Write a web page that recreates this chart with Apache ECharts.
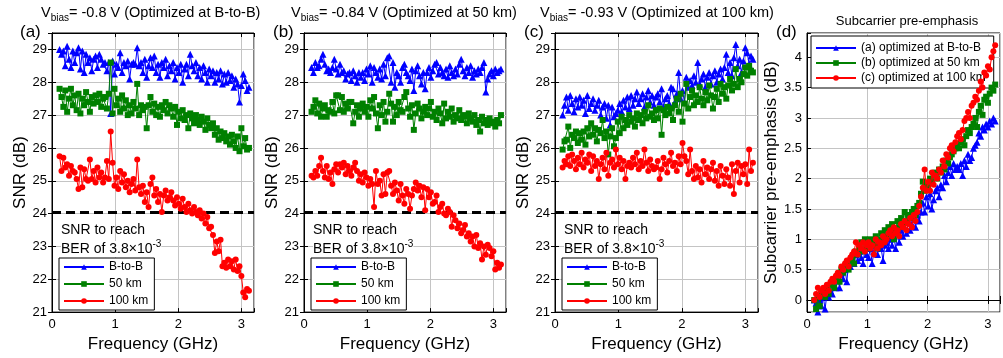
<!DOCTYPE html>
<html><head><meta charset="utf-8">
<script src="https://cdn.jsdelivr.net/npm/echarts@6/dist/echarts.min.js"></script>
<style>html,body{margin:0;padding:0;background:#fff}#c{width:1003px;height:358px}</style>
</head><body><div id="c"></div>
<script>
// ---- DATA ----
const freq = [0.12,0.15,0.18,0.21,0.24,0.27,0.30,0.33,0.36,0.39,
0.42,0.45,0.48,0.51,0.54,0.57,0.60,0.63,0.66,0.69,
0.72,0.75,0.78,0.81,0.84,0.87,0.90,0.93,0.96,0.99,
1.02,1.05,1.08,1.11,1.14,1.17,1.20,1.23,1.26,1.29,
1.32,1.35,1.38,1.41,1.44,1.47,1.50,1.53,1.56,1.59,
1.62,1.65,1.68,1.71,1.74,1.77,1.80,1.83,1.86,1.89,
1.92,1.95,1.98,2.01,2.04,2.07,2.10,2.13,2.16,2.19,
2.22,2.25,2.28,2.31,2.34,2.37,2.40,2.43,2.46,2.49,
2.52,2.55,2.58,2.61,2.64,2.67,2.70,2.73,2.76,2.79,
2.82,2.85,2.88,2.91,2.94,2.97,3.00,3.03,3.06,3.09,
3.12];

// Panel (a): Vbias = -0.8 V
const snrA_btb = [29.0,28.85,28.95,28.5,29.1,28.7,28.45,28.95,28.6,28.9,
29.05,28.4,28.95,28.3,28.85,28.6,28.75,28.35,28.7,28.8,
28.45,28.85,28.7,28.55,28.6,28.35,28.6,27.05,28.65,28.25,
28.55,28.45,28.9,28.3,28.6,28.5,28.65,28.1,28.55,28.6,
28.55,29.05,28.5,28.6,28.3,28.7,28.15,28.5,28.75,28.45,
28.8,28.3,28.55,28.15,28.6,28.45,28.7,28.2,28.5,28.35,
28.6,28.1,28.45,28.3,28.55,28.0,28.4,28.55,28.2,28.85,
28.5,28.35,28.6,28.2,28.45,28.1,28.5,28.3,28.0,28.4,
28.2,28.35,28.0,28.3,28.1,28.35,27.95,28.25,28.0,28.3,
28.05,28.2,27.85,28.1,27.95,27.4,27.9,28.25,28.05,27.75,
27.85];
const snrA_50 = [27.8,27.55,27.25,27.75,27.1,27.5,27.8,27.3,27.6,27.15,
27.65,27.05,27.5,27.3,27.7,27.4,27.1,27.55,27.35,27.6,
27.4,27.65,27.25,27.5,27.55,27.2,27.65,28.6,27.05,27.8,
27.3,27.5,27.1,27.6,27.2,27.45,27.0,27.3,27.05,27.4,
27.2,27.95,27.0,27.3,27.15,27.25,26.6,27.3,27.55,27.1,
27.35,27.0,27.25,26.95,27.3,27.15,27.4,27.05,27.3,27.2,
26.95,27.25,26.7,27.1,26.9,27.15,26.85,27.0,26.6,27.05,
26.9,26.75,27.0,26.85,26.7,26.95,26.8,26.55,26.9,26.7,
26.6,26.75,26.4,26.6,26.25,26.5,26.3,26.45,26.2,26.35,
26.1,26.4,26.2,26.0,26.35,25.9,26.6,26.05,26.3,25.95,
26.0];
const snrA_100 = [25.75,25.3,25.7,25.4,25.5,25.15,25.45,25.3,25.25,25.05,
24.75,25.4,24.8,25.35,25.05,25.0,25.65,25.05,25.3,24.95,
25.4,25.1,25.25,24.95,25.1,25.6,25.05,26.5,25.55,24.85,
25.1,24.75,25.3,24.95,25.2,24.8,25.0,24.65,24.9,25.05,
24.7,25.65,24.8,24.6,24.85,24.35,24.65,24.2,24.9,25.1,
24.55,24.75,24.35,24.6,24.05,24.55,24.7,24.4,24.5,24.65,
24.4,24.25,24.5,24.3,24.15,24.45,24.2,24.05,24.3,24.1,
24.0,24.2,24.05,23.95,24.1,23.85,24.0,23.7,23.9,23.55,
23.6,23.35,22.8,23.15,22.85,23.2,22.4,22.5,22.35,22.6,
22.4,22.55,22.3,22.6,22.25,22.4,22.1,21.6,21.45,21.7,
21.65];

// Panel (b): Vbias = -0.84 V
const snrB_btb = [28.45,28.3,28.6,28.45,28.5,28.7,28.85,28.55,28.35,28.4,
28.3,28.45,28.7,28.4,28.25,28.55,28.3,28.35,28.1,28.25,
28.3,28.05,28.35,28.2,28.0,28.3,28.15,28.3,28.05,28.4,
28.25,28.5,28.0,28.45,28.3,28.15,28.4,28.1,28.55,28.2,
28.75,28.8,28.0,28.6,27.85,28.3,28.2,28.0,28.45,28.55,
28.3,28.2,28.05,28.4,27.75,28.35,28.5,28.2,27.95,28.3,
27.8,28.3,28.45,28.15,28.35,28.55,28.6,28.25,28.45,28.3,
28.2,28.4,28.15,28.5,28.3,28.2,28.4,28.25,28.55,28.7,
28.35,28.2,28.45,28.3,28.5,28.15,28.35,28.25,28.4,28.3,
28.45,28.6,27.7,28.1,28.25,28.35,28.2,28.4,28.3,28.35,
28.4];
const snrB_50 = [27.1,27.25,27.45,27.05,27.35,26.95,27.2,27.3,26.95,27.15,
27.1,27.4,27.05,27.6,27.6,27.15,27.55,27.1,27.35,27.2,
27.4,27.4,26.75,27.1,27.3,26.95,27.2,27.35,27.1,27.25,
26.95,27.45,27.2,27.55,27.05,26.6,27.3,27.0,27.4,26.8,
27.1,27.65,27.35,26.8,27.25,27.0,27.4,27.15,27.1,27.55,
27.7,27.2,26.95,27.3,26.55,27.05,27.35,27.2,26.9,27.1,
27.25,27.0,27.2,27.4,26.95,27.1,26.85,27.2,27.05,26.75,
27.35,26.9,27.1,26.95,27.2,26.8,27.0,26.9,27.15,26.85,
27.0,26.95,26.75,27.05,26.9,26.8,27.0,26.7,26.85,26.5,
26.95,26.75,26.85,26.7,26.9,26.75,26.8,26.65,26.85,26.75,
27.0];
const snrB_100 = [25.15,25.1,25.3,25.15,25.45,25.7,25.3,25.1,25.45,25.05,
25.25,24.9,25.35,25.5,25.25,25.5,25.4,25.55,25.2,25.45,
25.3,25.15,25.4,25.55,25.3,25.0,25.2,24.95,25.25,25.1,
24.85,25.05,24.9,24.2,25.3,24.9,25.0,24.55,25.2,24.6,
25.25,25.3,24.85,24.6,24.95,24.7,24.4,24.9,24.55,24.3,
24.75,24.6,24.15,24.55,24.75,24.95,24.7,24.85,24.5,24.8,
24.1,24.75,24.5,24.65,24.3,24.35,24.55,24.05,24.2,24.3,
24.0,23.95,24.15,24.05,23.6,23.95,23.8,23.55,23.7,23.4,
23.5,23.65,23.3,23.4,23.15,23.3,23.0,23.35,22.95,23.1,
22.6,23.0,22.75,23.05,22.95,22.7,22.85,22.3,22.5,22.35,
22.45];

// Panel (c): Vbias = -0.93 V
const snrC_btb = [27.0,27.3,27.55,27.15,27.6,27.35,27.1,27.5,27.25,27.55,
27.3,27.45,27.05,27.6,27.2,27.35,27.5,27.15,27.3,27.45,
27.0,27.25,27.35,26.9,27.3,26.7,27.25,26.95,27.05,27.15,
27.35,27.1,27.45,27.25,27.55,27.2,27.6,27.3,27.5,27.7,
27.35,27.5,27.65,27.25,27.55,27.75,27.4,27.6,27.3,27.55,
27.65,27.4,27.8,27.25,27.5,27.6,27.35,27.85,27.8,27.4,
27.65,28.3,27.5,27.75,27.4,28.15,27.85,28.05,27.9,28.2,
28.0,28.6,27.95,28.1,28.25,27.85,28.15,28.3,27.95,28.2,
28.35,28.0,28.25,28.4,28.1,28.45,28.85,28.3,28.6,28.2,
28.75,29.15,28.5,28.7,28.3,28.65,29.05,28.9,28.55,28.8,
28.7];
const snrC_50 = [25.95,26.2,26.25,26.65,26.0,26.4,26.3,26.5,26.15,26.45,
26.25,26.5,26.1,26.6,26.35,26.75,26.4,26.6,26.2,26.55,
26.45,26.85,26.3,26.5,25.8,26.35,26.6,26.05,26.3,26.8,
26.45,26.95,26.6,26.85,26.7,27.0,26.8,26.9,26.65,27.05,
26.85,27.0,26.75,27.1,26.9,27.3,26.95,27.05,26.85,27.15,
26.9,27.2,26.4,27.15,27.0,27.25,27.05,27.2,26.85,27.3,
27.5,27.1,27.65,26.8,27.35,27.95,27.2,27.55,27.75,27.3,
27.6,27.4,27.85,27.5,27.3,27.7,27.45,27.9,27.6,27.2,
27.55,27.8,27.4,27.95,27.65,27.85,27.5,27.9,28.1,27.75,
27.95,28.4,27.85,28.1,28.0,28.25,28.45,28.2,28.5,28.35,
28.3];
const snrC_100 = [25.4,25.6,25.5,25.75,25.45,25.8,25.6,25.35,25.7,25.5,
25.85,25.4,25.65,25.55,25.8,25.3,25.75,25.45,25.6,25.05,
25.5,25.7,25.35,25.85,25.15,25.55,25.65,25.4,25.95,25.5,
25.7,25.35,25.6,25.05,25.45,25.55,25.4,25.7,25.5,25.85,
25.35,25.6,25.45,25.95,25.55,25.3,25.65,25.45,25.35,25.4,
25.6,25.05,25.35,25.7,25.5,25.25,25.6,25.85,25.45,25.55,
25.3,25.75,25.5,26.15,25.75,25.6,25.2,25.95,25.3,25.05,
25.45,25.1,25.35,24.95,25.6,25.2,25.4,25.05,25.35,25.55,
25.0,25.3,24.85,25.45,25.15,24.9,25.35,25.1,24.85,25.5,
24.6,25.3,25.55,24.95,25.45,25.2,25.5,24.9,25.95,25.3,
25.55];

// Panel (d): subcarrier pre-emphasis (dB)
const preA = [0.0,-0.05,-0.2,0.0,-0.1,0.05,-0.15,0.1,0.05,0.15,
0.1,0.25,0.2,0.35,0.2,0.45,0.35,0.5,0.3,0.6,
0.55,0.7,0.6,0.75,0.65,0.8,0.7,0.6,0.85,0.75,
0.7,0.85,0.6,0.8,0.9,0.75,0.95,0.85,0.65,0.9,
0.95,0.85,1.0,0.9,1.05,0.85,1.1,0.95,1.15,1.05,
1.2,1.1,1.3,1.15,1.25,1.35,1.2,1.4,1.3,1.45,
1.6,1.45,1.7,1.55,1.75,1.5,1.65,1.8,1.85,1.7,
1.9,1.85,2.05,1.95,2.1,2.2,2.05,2.25,2.15,2.2,
2.15,2.25,2.05,2.3,2.2,2.4,2.3,2.35,2.5,2.55,
2.6,2.75,2.7,2.85,2.8,2.9,2.85,2.95,2.9,3.0,
2.95];
const preB = [0.0,-0.15,0.05,-0.1,0.1,0.15,0.05,0.2,0.1,0.25,
0.3,0.2,0.35,0.4,0.3,0.5,0.45,0.55,0.6,0.5,
0.65,0.7,0.6,0.8,0.75,0.85,0.95,0.8,1.0,0.9,
0.85,1.0,0.95,0.9,1.05,0.85,1.0,1.1,0.95,1.15,
1.05,1.2,1.1,1.25,1.0,1.15,1.3,1.2,1.35,1.25,
1.45,1.3,1.4,1.35,1.45,1.5,1.4,1.55,1.6,1.75,
1.95,1.8,1.9,1.85,2.0,1.95,2.05,2.1,2.0,2.15,
2.1,2.2,2.15,2.3,2.25,2.35,2.4,2.45,2.5,2.55,
2.5,2.6,2.65,2.55,2.7,2.8,2.75,2.85,2.9,3.0,
2.85,3.1,3.2,3.05,3.3,3.35,3.25,3.4,3.5,3.45,
3.55];
const preC = [0.0,0.1,0.2,0.05,0.15,0.2,0.1,0.25,0.15,0.3,
0.35,0.3,0.4,0.45,0.4,0.55,0.5,0.6,0.65,0.55,
0.7,0.75,0.8,0.95,0.75,0.9,0.85,0.95,0.8,0.9,
0.95,0.85,0.9,0.75,1.0,0.85,0.95,0.9,1.05,0.95,
1.0,1.1,1.15,1.05,1.2,1.1,1.15,1.05,1.25,1.2,
1.3,1.15,1.25,1.35,1.2,1.4,1.3,1.45,1.55,1.7,
1.85,2.15,1.8,1.95,1.8,2.1,1.9,2.05,2.0,2.15,
2.1,2.3,2.2,2.4,2.35,2.5,2.55,2.45,2.6,2.7,
2.75,2.65,2.8,2.95,3.0,3.1,3.0,3.2,3.25,3.35,
3.3,3.45,3.6,3.5,3.75,3.7,3.85,3.8,4.0,4.1,
4.2];

const snrNames = ['B-to-B', '50 km', '100 km'];
const preNames = ['(a) optimized at B-to-B', '(b) optimized at 50 km', '(c) optimized at 100 km'];
const panelTitles = ['= -0.8 V (Optimized at B-to-B)', '= -0.84 V (Optimized at 50 km)', '= -0.93 V (Optimized at 100 km)'];
const panelLetters = ['(a)', '(b)', '(c)', '(d)'];
const thresholdSNR = 24.05;

// ---- CHART ----
const FONT = 'Liberation Sans, Arial, sans-serif';
const chart = echarts.init(document.getElementById('c'), null, {renderer: 'canvas'});
const gridBoxes = [{left: 52, width: 202}, {left: 304, width: 202}, {left: 555, width: 203}, {left: 807, width: 200}];
const grids = gridBoxes.map(b => ({left: b.left, width: b.width, top: 33, height: 282, show: true, borderColor: '#000', borderWidth: 1, backgroundColor: '#fff'}));

const intFmt = v => (Math.abs(v - Math.round(v)) < 1e-6 ? String(Math.round(v)) : '');
const xAxes = [], yAxes = [];
for (let g = 0; g < 4; g++) {
  xAxes.push({gridIndex: g, type: 'value', min: 0, max: 3.2, interval: 1,
    axisLine: {show: true, lineStyle: {color: '#000', width: 1}},
    axisTick: {show: true, inside: true, length: 4, lineStyle: {color: '#000'}},
    axisLabel: {color: '#000', fontSize: 13, fontFamily: FONT, margin: 6, formatter: intFmt},
    splitLine: {show: true, lineStyle: {color: '#c4c4c4', width: 1}},
    name: 'Frequency (GHz)', nameLocation: 'middle', nameGap: 18,
    nameTextStyle: {fontSize: 17, color: '#000', fontFamily: FONT}});
}
for (let g = 0; g < 4; g++) {
  xAxes.push({gridIndex: g, type: 'value', position: 'top', min: 0, max: 3.2, interval: 1,
    axisLine: {show: true, lineStyle: {color: '#000'}},
    axisTick: {show: true, inside: true, length: 4, lineStyle: {color: '#000'}},
    axisLabel: {show: false}, splitLine: {show: false}});
}
for (let g = 0; g < 3; g++) {
  yAxes.push({gridIndex: g, type: 'value', min: 21, max: 29.5, interval: 1,
    axisLine: {show: true, lineStyle: {color: '#000'}},
    axisTick: {show: true, inside: true, length: 4, lineStyle: {color: '#000'}},
    axisLabel: {color: '#000', fontSize: 13, fontFamily: FONT, margin: 5, formatter: intFmt},
    splitLine: {show: true, lineStyle: {color: '#c4c4c4', width: 1}},
    name: 'SNR (dB)', nameLocation: 'middle', nameGap: 23,
    nameTextStyle: {fontSize: 17, color: '#000', fontFamily: FONT}});
}
yAxes.push({gridIndex: 3, type: 'value', min: -0.2, max: 4.4, splitNumber: 9, minInterval: 0.5, maxInterval: 0.5,
  axisLine: {show: true, lineStyle: {color: '#000'}},
  axisTick: {show: true, inside: true, length: 4, lineStyle: {color: '#000'}},
  axisLabel: {color: '#000', fontSize: 13, fontFamily: FONT, margin: 5,
    formatter: v => (v < -0.1 || v > 4.2 ? '' : String(Math.round(v * 10) / 10))},
  splitLine: {show: true, lineStyle: {color: '#c4c4c4', width: 1}},
  name: 'Subcarrier pre-emphasis (dB)', nameLocation: 'middle', nameGap: 27,
  nameTextStyle: {fontSize: 17, color: '#000', fontFamily: FONT}});
for (let g = 0; g < 3; g++) {
  yAxes.push({gridIndex: g, type: 'value', position: 'right', min: 21, max: 29.5, interval: 1,
    axisLine: {show: true, lineStyle: {color: '#000'}},
    axisTick: {show: true, inside: true, length: 4, lineStyle: {color: '#000'}},
    axisLabel: {show: false}, splitLine: {show: false}});
}
yAxes.push({gridIndex: 3, type: 'value', position: 'right', min: -0.2, max: 4.4, splitNumber: 9, minInterval: 0.5, maxInterval: 0.5,
  axisLine: {show: false}, axisTick: {show: false}, axisLabel: {show: false}, splitLine: {show: false}});

const colors = ['#0000ff', '#008000', '#ff0000'];
const symbols = ['triangle', 'rect', 'circle'];
const symSizes = [7, 6, 6];
const pairs = ys => ys.map((y, i) => [freq[i], y]);
function mk(name, ys, k, g, extra) {
  return Object.assign({type: 'line', name: name, data: pairs(ys), xAxisIndex: g, yAxisIndex: g,
    symbol: symbols[k], symbolSize: symSizes[k], showAllSymbol: true, animation: false,
    itemStyle: {color: colors[k]}, lineStyle: {color: colors[k], width: 1},
    emphasis: {disabled: true}, z: 3 + k}, extra || {});
}
const threshold = {silent: true, symbol: ['none', 'none'], animation: false,
  label: {show: false}, lineStyle: {color: '#000', type: [9, 5], width: 3},
  data: [{yAxis: thresholdSNR}]};

const snrSets = [[snrA_btb, snrA_50, snrA_100], [snrB_btb, snrB_50, snrB_100], [snrC_btb, snrC_50, snrC_100]];
const series = [];
snrSets.forEach((set, g) => {
  set.forEach((ys, k) => series.push(mk(snrNames[k], ys, k, g, k === 2 ? {markLine: threshold} : null)));
});
[preA, preB, preC].forEach((ys, k) => series.push(mk(preNames[k], ys, k, 3)));

const legendCommon = {orient: 'vertical', itemWidth: 40, itemHeight: 7, itemGap: 5,
  padding: [3, 6, 3, 4], borderColor: '#000', borderWidth: 1, backgroundColor: '#fff',
  selectedMode: false, textStyle: {fontSize: 12, color: '#000', fontFamily: FONT}};
const legends = [0, 1, 2].map(g => Object.assign({}, legendCommon, {data: snrNames, left: gridBoxes[g].left + 7, top: 258}));
legends.push(Object.assign({}, legendCommon, {data: preNames, left: 811, top: 36, itemGap: 3, padding: [6, 8, 4, 4]}));

const titleRich = {
  m: {fontSize: 14.5, lineHeight: 16, fontFamily: FONT, fill: '#000', verticalAlign: 'middle'},
  s: {fontSize: 10, lineHeight: 10, padding: [10, 0, 0, 0], fontFamily: FONT, fill: '#000', verticalAlign: 'middle'}
};
const supRich = {
  m: {fontSize: 14, lineHeight: 16, fontFamily: FONT, fill: '#000', verticalAlign: 'middle'},
  p: {fontSize: 10, lineHeight: 10, padding: [0, 0, 9, 0], fontFamily: FONT, fill: '#000', verticalAlign: 'middle'}
};
const graphics = [];
const titleX = [41, 291, 540];
const letterX = [20, 273, 524, 776];
for (let g = 0; g < 3; g++) {
  graphics.push({type: 'text', x: titleX[g], y: 13, z: 10,
    style: {text: '{m|V}{s|bias}{m|' + panelTitles[g] + '}', rich: titleRich, verticalAlign: 'middle', align: 'left'}});
  graphics.push({type: 'text', x: gridBoxes[g].left + 9, y: 230, z: 10,
    style: {text: 'SNR to reach', fontSize: 14, fontFamily: FONT, fill: '#000', verticalAlign: 'middle', align: 'left'}});
  graphics.push({type: 'text', x: gridBoxes[g].left + 9, y: 249, z: 10,
    style: {text: '{m|BER of 3.8×10}{p|-3}', rich: supRich, backgroundColor: '#fff', verticalAlign: 'middle', align: 'left'}});
}
for (let g = 0; g < 4; g++) {
  graphics.push({type: 'text', x: letterX[g], y: 32, z: 10,
    style: {text: panelLetters[g], fontSize: 17, fontFamily: FONT, fill: '#000', verticalAlign: 'middle', align: 'left'}});
}
graphics.push({type: 'text', x: 907, y: 21, z: 10,
  style: {text: 'Subcarrier pre-emphasis', fontSize: 13, fontFamily: FONT, fill: '#000', verticalAlign: 'middle', align: 'center'}});

chart.setOption({
  backgroundColor: '#fff',
  animation: false,
  grid: grids,
  xAxis: xAxes,
  yAxis: yAxes,
  legend: legends,
  series: series,
  graphic: graphics
});
</script>
</body></html>
